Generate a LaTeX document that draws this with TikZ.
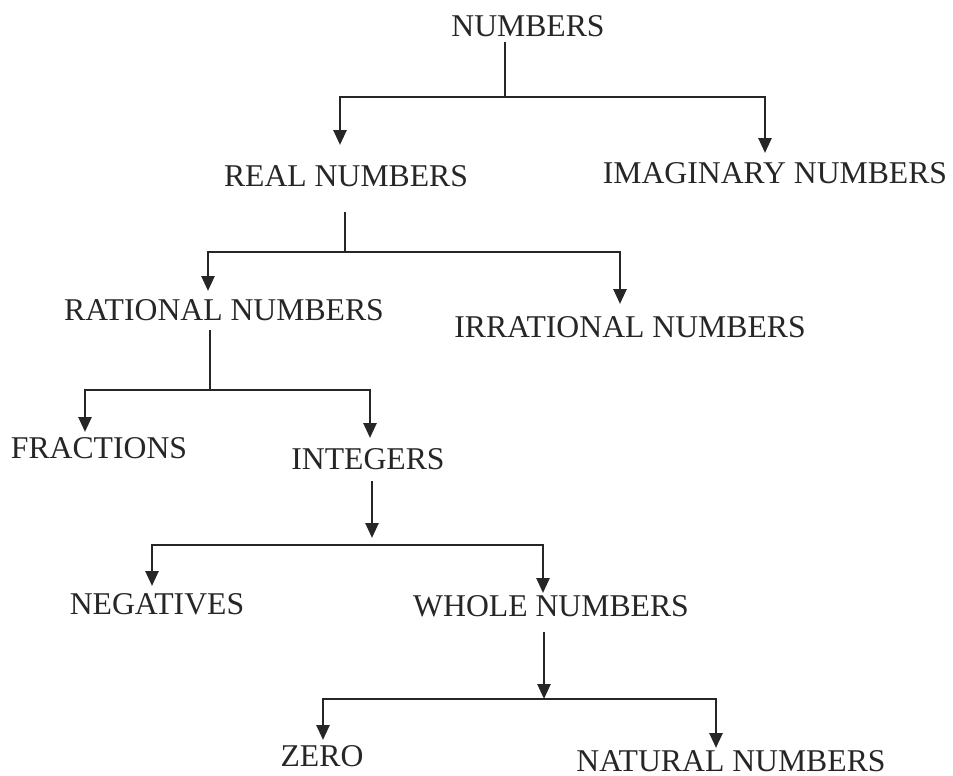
\documentclass[tikz,border=0pt]{standalone}
\usepackage{fontspec}
\setmainfont{Liberation Serif}
\usetikzlibrary{arrows.meta}
\begin{document}
\begin{tikzpicture}[x=1pt,y=-1pt,
  lbl/.style={anchor=base,inner sep=0pt,font=\fontsize{31.7}{36}\selectfont,text=black!85},
  conn/.style={line width=2.6pt,draw=black!85},
  arr/.style={conn,-{Triangle[width=13pt,length=15pt]}}]
\useasboundingbox (0,0) rectangle (953,776);
% nodes
\node[lbl] (numbers) at (528,37) {NUMBERS};
\node[lbl] (real) at (346,186) {REAL NUMBERS};
\node[lbl] (imag) at (775,183) {IMAGINARY NUMBERS};
\node[lbl] (rational) at (224,320) {RATIONAL NUMBERS};
\node[lbl] (irrational) at (630,337) {IRRATIONAL NUMBERS};
\node[lbl] (fractions) at (99,458) {FRACTIONS};
\node[lbl] (integers) at (368,469) {INTEGERS};
\node[lbl] (negatives) at (157,614) {NEGATIVES};
\node[lbl] (whole) at (551,616) {WHOLE NUMBERS};
\node[lbl] (zero) at (322,766) {ZERO};
\node[lbl] (natural) at (731,771) {NATURAL NUMBERS};
% coordinates
\coordinate (n0) at (505,42);
\coordinate (n1) at (505,97);
\coordinate (t1) at (340,145);
\coordinate (t2) at (765,153);
\coordinate (r0) at (345,212);
\coordinate (r1) at (345,252);
\coordinate (t3) at (208,291);
\coordinate (t4) at (620,304);
\coordinate (q0) at (210,330);
\coordinate (q1) at (210,390);
\coordinate (t5) at (85,432);
\coordinate (t6) at (370,438);
\coordinate (i0) at (372,481);
\coordinate (i1) at (372,538);
\coordinate (iL) at (372,545);
\coordinate (t7) at (152,586);
\coordinate (t8) at (543,593);
\coordinate (w0) at (544,632);
\coordinate (w1) at (544,699);
\coordinate (t9) at (323,740);
\coordinate (t10) at (716,748);
% connectors
\draw[conn] (n0) -- (n1);
\draw[arr] (n1) -| (t1);
\draw[arr] (n1) -| (t2);
\draw[conn] (r0) -- (r1);
\draw[arr] (r1) -| (t3);
\draw[arr] (r1) -| (t4);
\draw[conn] (q0) -- (q1);
\draw[arr] (q1) -| (t5);
\draw[arr] (q1) -| (t6);
\draw[arr] (i0) -- (i1);
\draw[arr] (iL) -| (t7);
\draw[arr] (iL) -| (t8);
\draw[arr] (w0) -- (w1);
\draw[arr] (w1) -| (t9);
\draw[arr] (w1) -| (t10);
\end{tikzpicture}
\end{document}
